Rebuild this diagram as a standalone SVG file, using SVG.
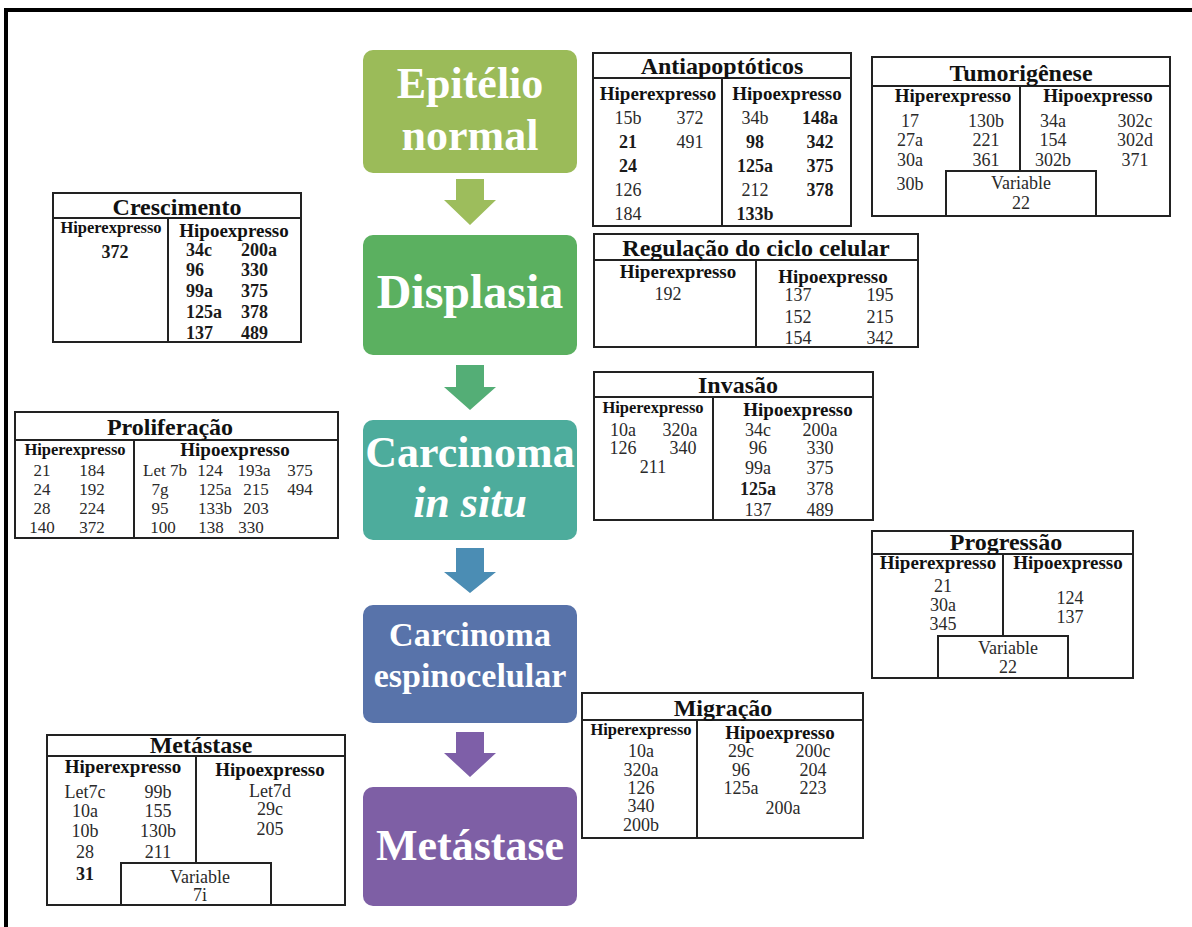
<svg xmlns="http://www.w3.org/2000/svg" width="1192" height="927" viewBox="0 0 1192 927">
<defs>
<style>
text{font-family:"Liberation Serif","Times New Roman",serif;text-anchor:middle}
.stage{fill:#fff;font-weight:bold}
.tb{fill:#fff;stroke:#222;stroke-width:2}
.ln{stroke:#222;stroke-width:2}
.ttl{font-size:24px;font-weight:bold;fill:#111}
.h19{font-size:19px;font-weight:bold;fill:#111}
.h17{font-size:16.5px;font-weight:bold;fill:#111}
.n{font-size:18px;fill:#2a2a2a}
.b{font-weight:bold;fill:#1a1a1a}
.st{text-anchor:start}
.sm{font-size:17px}
</style>
</defs>
<rect x="0" y="0" width="1192" height="927" fill="#fff"/>
<rect x="6" y="10" width="1210" height="1000" fill="none" stroke="#000" stroke-width="4"/>

<g id="connectors">
<polygon points="456,179 484,179 484,200 496,200 470,225 444,200 456,200" fill="#9dbd5c"/>
<polygon points="456,365 484,365 484,387 496,387 470,410 444,387 456,387" fill="#54ae76"/>
<polygon points="456,548 484,548 484,572 496,572 470,593 444,572 456,572" fill="#4b8db4"/>
<polygon points="456,732 484,732 484,753 496,753 470,777 444,753 456,753" fill="#7e5fa8"/>
</g>

<g id="epitelio">
<rect x="363" y="50" width="214" height="123" rx="10" fill="#9bbb59"/>
<text class="stage" x="470" y="98" font-size="44">Epitélio</text>
<text class="stage" x="470" y="150" font-size="44">normal</text>
</g>
<g id="displasia">
<rect x="363" y="235" width="214" height="120" rx="10" fill="#5bb060"/>
<text class="stage" x="470" y="308" font-size="48">Displasia</text>
</g>
<g id="carcinoma-in-situ">
<rect x="363" y="420" width="214" height="120" rx="10" fill="#4dac9c"/>
<text class="stage" x="470" y="467" font-size="44">Carcinoma</text>
<text class="stage" x="470" y="517" font-size="44" font-style="italic">in situ</text>
</g>
<g id="carcinoma-espinocelular">
<rect x="363" y="605" width="214" height="118" rx="10" fill="#5873aa"/>
<text class="stage" x="470" y="646" font-size="34">Carcinoma</text>
<text class="stage" x="470" y="687" font-size="34">espinocelular</text>
</g>
<g id="metastase">
<rect x="363" y="787" width="214" height="119" rx="10" fill="#7e5fa5"/>
<text class="stage" x="470" y="860" font-size="44">Metástase</text>
</g>

<g id="tbl-antiapoptoticos">
<rect class="tb" x="593" y="53" width="258" height="173"/>
<line class="ln" x1="593" y1="78" x2="851" y2="78"/>
<line class="ln" x1="722" y1="78" x2="722" y2="226"/>
<text class="ttl" x="722" y="74">Antiapoptóticos</text>
<text class="h19" x="658" y="100">Hiperexpresso</text>
<text class="h19" x="787" y="100">Hipoexpresso</text>
<text class="n" x="628" y="124">15b</text><text class="n" x="690" y="124">372</text>
<text class="n b" x="628" y="148">21</text><text class="n" x="690" y="148">491</text>
<text class="n b" x="628" y="172">24</text>
<text class="n" x="628" y="196">126</text>
<text class="n" x="628" y="220">184</text>
<text class="n" x="755" y="124">34b</text><text class="n b" x="820" y="124">148a</text>
<text class="n b" x="755" y="148">98</text><text class="n b" x="820" y="148">342</text>
<text class="n b" x="755" y="172">125a</text><text class="n b" x="820" y="172">375</text>
<text class="n" x="755" y="196">212</text><text class="n b" x="820" y="196">378</text>
<text class="n b" x="755" y="220">133b</text>
</g>

<g id="tbl-tumorigenese">
<rect class="tb" x="872" y="57" width="298" height="159"/>
<line class="ln" x1="872" y1="86" x2="1170" y2="86"/>
<line class="ln" x1="1020" y1="86" x2="1020" y2="171"/>
<rect class="tb" x="946" y="171" width="150" height="45"/>
<text class="ttl" x="1021" y="81">Tumorigênese</text>
<text class="h19" x="953" y="102">Hiperexpresso</text>
<text class="h19" x="1098" y="102">Hipoexpresso</text>
<text class="n" x="910" y="127">17</text><text class="n" x="986" y="127">130b</text><text class="n" x="1053" y="127">34a</text><text class="n" x="1135" y="127">302c</text>
<text class="n" x="910" y="146">27a</text><text class="n" x="986" y="146">221</text><text class="n" x="1053" y="146">154</text><text class="n" x="1135" y="146">302d</text>
<text class="n" x="910" y="166">30a</text><text class="n" x="986" y="166">361</text><text class="n" x="1053" y="166">302b</text><text class="n" x="1135" y="166">371</text>
<text class="n" x="910" y="190">30b</text>
<text class="n" x="1021" y="189">Variable</text>
<text class="n" x="1021" y="209">22</text>
</g>

<g id="tbl-crescimento">
<rect class="tb" x="53" y="193" width="248" height="149"/>
<line class="ln" x1="53" y1="218" x2="301" y2="218"/>
<line class="ln" x1="168" y1="218" x2="168" y2="342"/>
<text class="ttl" x="177" y="215">Crescimento</text>
<text class="h17" x="111" y="233">Hiperexpresso</text>
<text class="h19" x="234" y="237">Hipoexpresso</text>
<text class="n b" x="115" y="258">372</text>
<text class="n b st" x="186" y="256">34c</text><text class="n b st" x="241" y="256">200a</text>
<text class="n b st" x="186" y="276">96</text><text class="n b st" x="241" y="276">330</text>
<text class="n b st" x="186" y="297">99a</text><text class="n b st" x="241" y="297">375</text>
<text class="n b st" x="186" y="318">125a</text><text class="n b st" x="241" y="318">378</text>
<text class="n b st" x="186" y="339">137</text><text class="n b st" x="241" y="339">489</text>
</g>

<g id="tbl-regulacao">
<rect class="tb" x="594" y="234" width="324" height="113"/>
<line class="ln" x1="594" y1="260" x2="918" y2="260"/>
<line class="ln" x1="756" y1="260" x2="756" y2="347"/>
<text class="ttl" x="756" y="256">Regulação do ciclo celular</text>
<text class="h19" x="678" y="278">Hiperexpresso</text>
<text class="n" x="668" y="300">192</text>
<text class="h19" x="833" y="283">Hipoexpresso</text>
<text class="n" x="798" y="301">137</text><text class="n" x="880" y="301">195</text>
<text class="n" x="798" y="323">152</text><text class="n" x="880" y="323">215</text>
<text class="n" x="798" y="344">154</text><text class="n" x="880" y="344">342</text>
</g>

<g id="tbl-invasao">
<rect class="tb" x="594" y="372" width="279" height="148"/>
<line class="ln" x1="594" y1="397" x2="873" y2="397"/>
<line class="ln" x1="713" y1="397" x2="713" y2="520"/>
<text class="ttl" x="738" y="393">Invasão</text>
<text class="h17" x="653" y="413">Hiperexpresso</text>
<text class="h19" x="798" y="416">Hipoexpresso</text>
<text class="n" x="623" y="436">10a</text><text class="n" x="680" y="436">320a</text>
<text class="n" x="623" y="454">126</text><text class="n" x="683" y="454">340</text>
<text class="n" x="653" y="473">211</text>
<text class="n" x="758" y="436">34c</text><text class="n" x="820" y="436">200a</text>
<text class="n" x="758" y="454">96</text><text class="n" x="820" y="454">330</text>
<text class="n" x="758" y="474">99a</text><text class="n" x="820" y="474">375</text>
<text class="n b" x="758" y="495">125a</text><text class="n" x="820" y="495">378</text>
<text class="n" x="758" y="516">137</text><text class="n" x="820" y="516">489</text>
</g>

<g id="tbl-proliferacao">
<rect class="tb" x="15" y="412" width="323" height="126"/>
<line class="ln" x1="15" y1="440" x2="338" y2="440"/>
<line class="ln" x1="134" y1="440" x2="134" y2="538"/>
<text class="ttl" x="170" y="435">Proliferação</text>
<text class="h17" x="75" y="455">Hiperexpresso</text>
<text class="h19" x="235" y="456">Hipoexpresso</text>
<text class="n sm" x="42" y="476">21</text><text class="n sm" x="92" y="476">184</text>
<text class="n sm" x="42" y="495">24</text><text class="n sm" x="92" y="495">192</text>
<text class="n sm" x="42" y="514">28</text><text class="n sm" x="92" y="514">224</text>
<text class="n sm" x="42" y="533">140</text><text class="n sm" x="92" y="533">372</text>
<text class="n sm" x="165" y="476">Let 7b</text><text class="n sm" x="210" y="476">124</text><text class="n sm" x="254" y="476">193a</text><text class="n sm" x="300" y="476">375</text>
<text class="n sm" x="160" y="495">7g</text><text class="n sm" x="215" y="495">125a</text><text class="n sm" x="256" y="495">215</text><text class="n sm" x="300" y="495">494</text>
<text class="n sm" x="160" y="514">95</text><text class="n sm" x="215" y="514">133b</text><text class="n sm" x="256" y="514">203</text>
<text class="n sm" x="163" y="533">100</text><text class="n sm" x="211" y="533">138</text><text class="n sm" x="251" y="533">330</text>
</g>

<g id="tbl-progressao">
<rect class="tb" x="872" y="531" width="261" height="147"/>
<line class="ln" x1="872" y1="554" x2="1133" y2="554"/>
<line class="ln" x1="1003" y1="554" x2="1003" y2="636"/>
<rect class="tb" x="938" y="636" width="130" height="42"/>
<text class="ttl" x="1006" y="550">Progressão</text>
<text class="h19" x="938" y="569">Hiperexpresso</text>
<text class="h19" x="1068" y="569">Hipoexpresso</text>
<text class="n" x="943" y="592">21</text>
<text class="n" x="943" y="611">30a</text>
<text class="n" x="943" y="630">345</text>
<text class="n" x="1070" y="604">124</text>
<text class="n" x="1070" y="623">137</text>
<text class="n" x="1008" y="654">Variable</text>
<text class="n" x="1008" y="673">22</text>
</g>

<g id="tbl-migracao">
<rect class="tb" x="582" y="693" width="281" height="145"/>
<line class="ln" x1="582" y1="720" x2="863" y2="720"/>
<line class="ln" x1="697" y1="720" x2="697" y2="838"/>
<text class="ttl" x="723" y="716">Migração</text>
<text class="h17" x="641" y="735">Hiperexpresso</text>
<text class="h19" x="780" y="739">Hipoexpresso</text>
<text class="n" x="641" y="757">10a</text>
<text class="n" x="641" y="776">320a</text>
<text class="n" x="641" y="794">126</text>
<text class="n" x="641" y="812">340</text>
<text class="n" x="641" y="831">200b</text>
<text class="n" x="741" y="757">29c</text><text class="n" x="813" y="757">200c</text>
<text class="n" x="741" y="776">96</text><text class="n" x="813" y="776">204</text>
<text class="n" x="741" y="794">125a</text><text class="n" x="813" y="794">223</text>
<text class="n" x="783" y="814">200a</text>
</g>

<g id="tbl-metastase">
<rect class="tb" x="47" y="735" width="298" height="170"/>
<line class="ln" x1="47" y1="756" x2="345" y2="756"/>
<line class="ln" x1="196" y1="756" x2="196" y2="863"/>
<rect class="tb" x="121" y="863" width="150" height="42"/>
<text class="ttl" x="201" y="753">Metástase</text>
<text class="h19" x="123" y="773">Hiperexpresso</text>
<text class="h19" x="270" y="776">Hipoexpresso</text>
<text class="n" x="85" y="798">Let7c</text><text class="n" x="158" y="798">99b</text>
<text class="n" x="85" y="817">10a</text><text class="n" x="158" y="817">155</text>
<text class="n" x="85" y="837">10b</text><text class="n" x="158" y="837">130b</text>
<text class="n" x="85" y="858">28</text><text class="n" x="158" y="858">211</text>
<text class="n b" x="85" y="880">31</text>
<text class="n" x="270" y="797">Let7d</text>
<text class="n" x="270" y="815">29c</text>
<text class="n" x="270" y="835">205</text>
<text class="n" x="200" y="883">Variable</text>
<text class="n" x="200" y="901">7i</text>
</g>
</svg>
